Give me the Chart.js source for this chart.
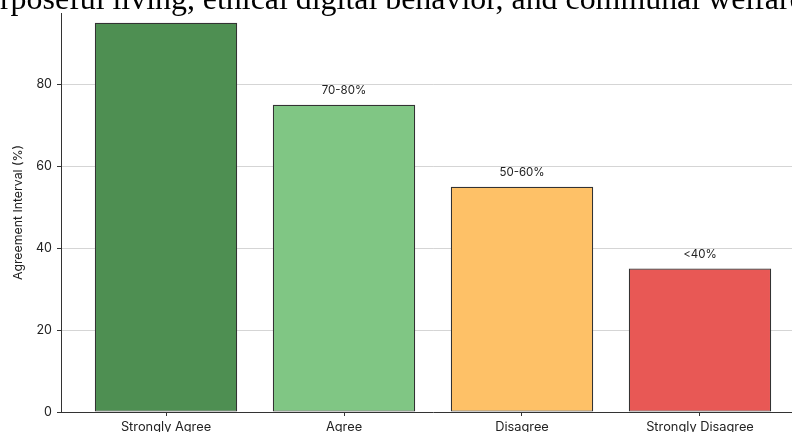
<!DOCTYPE html>
<html>
<head>
<meta charset="utf-8">
<script src="https://cdn.jsdelivr.net/npm/chart.js@4"></script>
<style>
  html, body { margin: 0; padding: 0; width: 792px; height: 432px; overflow: hidden; background: #fff; }
  #wrap { position: relative; width: 792px; height: 432px; overflow: hidden; }
  #chart { position: absolute; left: 0; top: 0; }
</style>
</head>
<body>
<div id="wrap"><canvas id="chart" width="810" height="450" style="width:810px;height:450px"></canvas></div>
<script>
// Data
const categories = ['Strongly Agree', 'Agree', 'Disagree', 'Strongly Disagree'];
const values = [95, 75, 55, 35];
const rangeLabels = ['90-100%', '70-80%', '50-60%', '<40%'];
const barColors = ['#4E8F52', '#80C684', '#FEC167', '#E85855'];
const yTicks = [0, 20, 40, 60, 80];
const titleText = 'Agreement with purposeful living, ethical digital behavior, and communal welfare';

const sans = 'Inter, "DejaVu Sans", sans-serif';
const ink = '#222';

// title sits above the visible area, only its lower part shows
const titlePlugin = {
  id: 'cutTitle',
  afterDraw(chart) {
    const ctx = chart.ctx;
    ctx.save();
    ctx.font = '31.9px "Liberation Serif", "Times New Roman", serif';
    ctx.fillStyle = '#000';
    ctx.textBaseline = 'alphabetic';
    const shift = ctx.measureText(titleText.slice(0, titleText.indexOf('rposeful'))).width;
    ctx.fillText(titleText, -shift, 9);
    ctx.restore();
  }
};

// range labels above bars
const barLabels = {
  id: 'barLabels',
  afterDatasetsDraw(chart) {
    const ctx = chart.ctx;
    const y = chart.scales.y;
    const area = chart.chartArea;
    ctx.save();
    ctx.font = '11.5px ' + sans;
    ctx.fillStyle = ink;
    ctx.textAlign = 'center';
    ctx.textBaseline = 'bottom';
    chart.getDatasetMeta(0).data.forEach((bar, i) => {
      const py = y.getPixelForValue(values[i] + 2);
      if (py - 12 < area.top) return; // would land in the title band
      ctx.fillText(rangeLabels[i], bar.x, py);
    });
    ctx.restore();
  }
};

const ctx = document.getElementById('chart').getContext('2d');
new Chart(ctx, {
  type: 'bar',
  data: {
    datasets: [{
      data: categories.map((c, i) => ({ x: i, y: values[i] })),
      backgroundColor: barColors,
      borderColor: '#333',
      borderWidth: 1.2,
      borderSkipped: false,
      categoryPercentage: 1,
      barPercentage: 0.8
    }]
  },
  options: {
    responsive: false,
    animation: false,
    layout: { padding: { top: 13, right: 5, left: 0, bottom: 0 } },
    plugins: {
      legend: { display: false },
      tooltip: { enabled: false },
      title: { display: false }
    },
    scales: {
      x: {
        type: 'linear',
        min: -0.59,
        max: 3.59,
        offset: false,
        z: 2,
        afterFit: s => { s.height = 38; },
        afterBuildTicks: s => { s.ticks = categories.map((c, i) => ({ value: i })); },
        grid: { offset: false, drawOnChartArea: false, drawTicks: true, tickLength: 4, tickColor: '#333', tickWidth: 1 },
        border: { color: '#333', width: 1 },
        ticks: {
          autoSkip: false,
          maxRotation: 0,
          padding: 3,
          color: ink,
          font: { family: sans, size: 12.8 },
          callback: v => categories[v]
        }
      },
      y: {
        min: 0,
        max: 97.4,
        z: 1,
        afterFit: s => { s.width = 61; },
        afterBuildTicks: s => { s.ticks = yTicks.map(v => ({ value: v })); },
        grid: {
          color: c => c.tick && c.tick.value === 0 ? 'rgba(0,0,0,0)' : 'rgba(150,150,150,0.5)',
          lineWidth: 0.8,
          borderDash: [4, 2.5],
          tickLength: 4,
          tickColor: '#333',
          tickWidth: 1,
          tickBorderDash: []
        },
        border: { color: '#333', width: 1 },
        ticks: {
          padding: 5,
          color: ink,
          font: { family: sans, size: 12.5 }
        },
        title: {
          display: true,
          text: 'Agreement Interval (%)',
          color: ink,
          font: { family: sans, size: 12.3 },
          padding: { top: 11, bottom: 0 }
        }
      }
    }
  },
  plugins: [titlePlugin, barLabels]
});
</script>
</body>
</html>
